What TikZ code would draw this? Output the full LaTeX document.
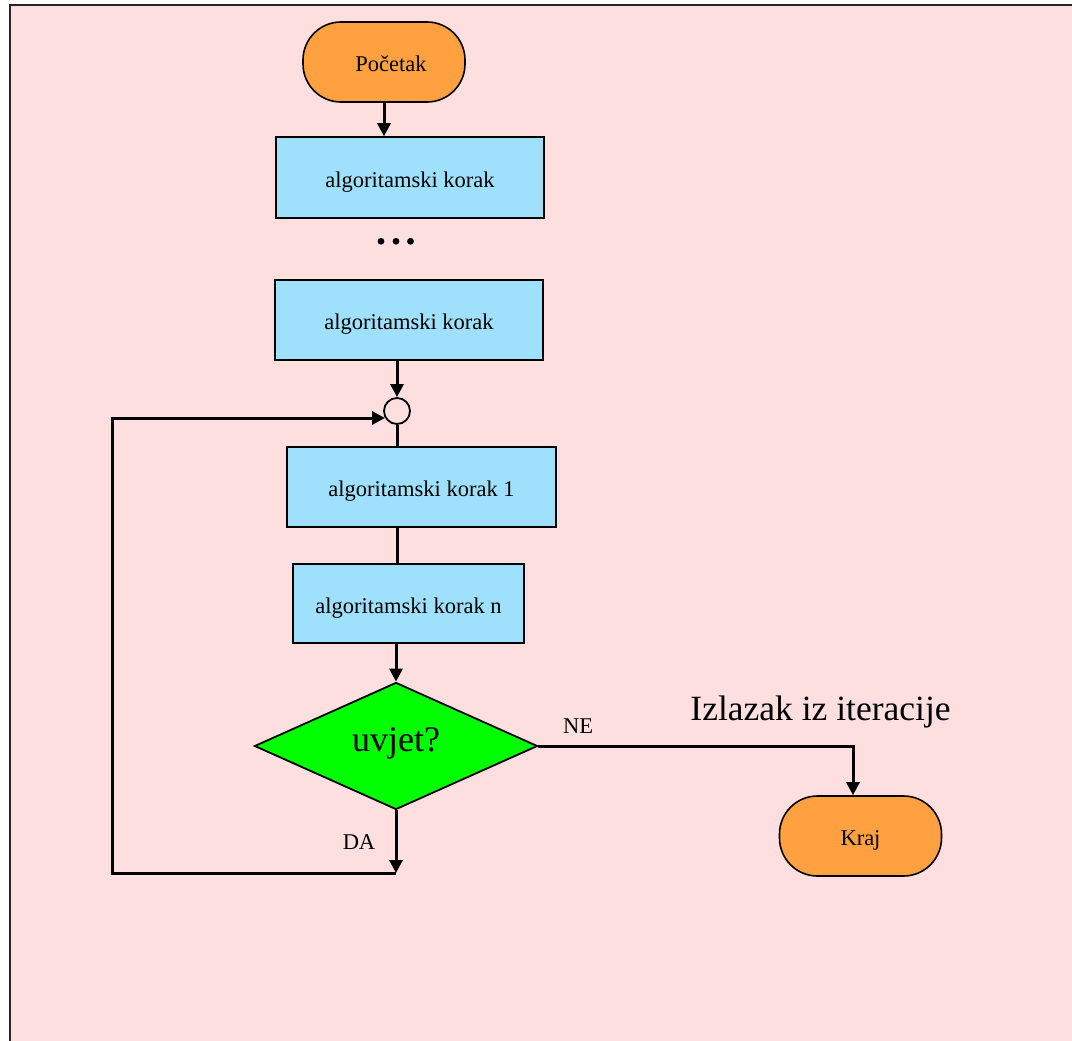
\documentclass[tikz,border=0pt]{standalone}
\usepackage{fontspec}
\setmainfont{Liberation Serif}
\usetikzlibrary{arrows.meta,shapes.geometric}

\definecolor{bgpink}{RGB}{253,223,224}
\definecolor{stepblue}{RGB}{159,224,253}
\definecolor{termorange}{RGB}{255,161,64}
\definecolor{condgreen}{RGB}{0,255,0}

\tikzset{
  smalltext/.style={font=\fontsize{22.5}{27}\selectfont, text height=20pt, text depth=1pt},
  stepbox/.style={draw=black, line width=1.6pt, fill=stepblue, rectangle, inner sep=0pt, smalltext},
  terminal/.style={draw=black, line width=1.6pt, fill=termorange, rectangle, rounded corners=38pt,
                   minimum width=162pt, minimum height=80pt, inner sep=0pt, smalltext},
  decision/.style={draw=black, line width=1.8pt, fill=condgreen, diamond, aspect=2.2, inner sep=0pt,
                   minimum width=283pt, minimum height=127pt,
                   font=\fontsize{36}{40}\selectfont, text height=17pt, text depth=6pt},
  joint/.style={draw=black, line width=1.8pt, fill=bgpink, circle, minimum size=26pt, inner sep=0pt},
  flow/.style={line width=3pt, line join=miter},
  arr/.style={flow, -{Triangle[length=13pt,width=13pt]}},
  tag/.style={font=\fontsize{22.5}{27}\selectfont, anchor=base, inner sep=0pt}
}

\begin{document}
\begin{tikzpicture}[x=1pt,y=-1pt]
  \useasboundingbox (0,0) rectangle (1072,1041);

  % page background and frame
  \fill[bgpink] (10,5) rectangle (1072,1041);
  \draw[line width=2pt, black!85] (10,1041) -- (10,5) -- (1072,5);

  % nodes
  \node[terminal, label={[smalltext, xshift=7pt]center:Početak}] (start) at (384,62) {};
  \node[stepbox, minimum width=268pt, minimum height=81pt] (b1) at (410,177.5) {algoritamski korak};
  \node[stepbox, minimum width=268pt, minimum height=80pt] (b2) at (409,320) {algoritamski korak};
  \node[joint] (c) at (397,411) {};
  \node[stepbox, minimum width=269pt, minimum height=80pt] (b3) at (421.5,487) {algoritamski korak 1};
  \node[stepbox, minimum width=231pt, minimum height=79pt] (b4) at (408.5,603.5) {algoritamski korak n};
  \node[decision] (d) at (396,746) {uvjet?};
  \node[terminal] (k) at (860.5,836) {Kraj};

  % ellipsis between steps
  \foreach \px in {381,396,410.5}
    \fill (\px,241.3) circle (3.4pt);

  % labels
  \node[tag] (ne) at (578,733) {NE};
  \node[tag] (da) at (359,849) {DA};
  \node[tag, font=\fontsize{35.5}{40}\selectfont] (izl) at (820.5,720) {Izlazak iz iteracije};

  % route points
  \coordinate (dabot) at (396,873);
  \coordinate (lb) at (112,873);
  \coordinate (lt) at (112,418);
  \coordinate (loopend) at (385,418);
  \coordinate (necorner) at (853,746);

  % connectors
  \draw[arr] (start) -- (start |- b1.north);
  \draw[arr] (b2.south -| c.north) -- (c.north);
  \draw[flow] (c.south) -- (c.south |- b3.north);
  \draw[flow] (b3.south -| c.south) -- (c.south |- b4.north);
  \draw[arr] (b4.south -| d.north) -- (d.north);
  \draw[arr] (d.south) -- (dabot);
  \draw[arr] (dabot) -- (lb) -- (lt) -- (loopend);
  \draw[arr] (d.east) -- (necorner) -- (necorner |- k.north);
\end{tikzpicture}
\end{document}
